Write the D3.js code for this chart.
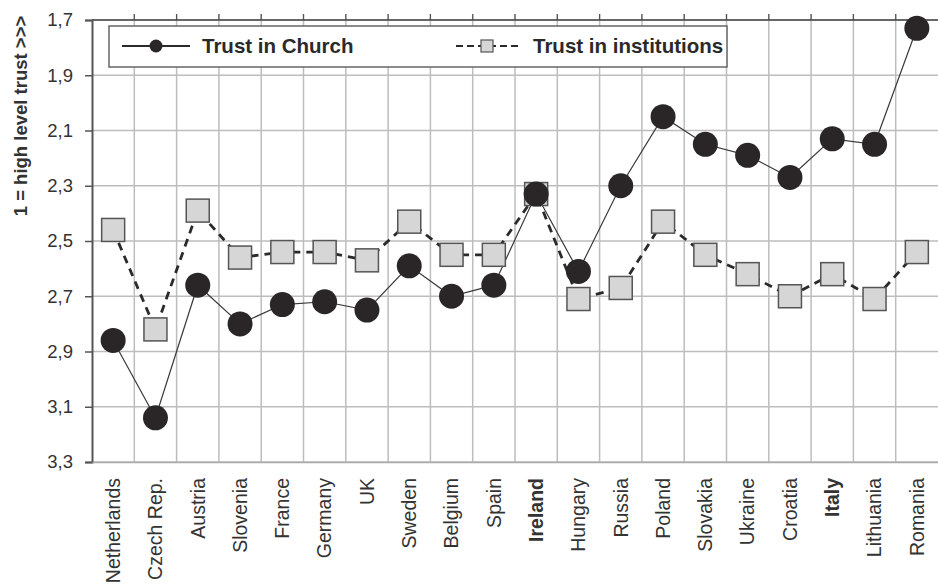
<!DOCTYPE html>
<html>
<head>
<meta charset="utf-8">
<script src="https://cdn.jsdelivr.net/npm/d3@7"></script>
<style>
  body { margin: 0; background: #fff; }
  svg { font-family: "Liberation Sans", Arial, sans-serif; }
</style>
</head>
<body>
<div id="chart"></div>
<script>
// data (lower value = more trust)
let countries = ['Netherlands', 'Czech Rep.', 'Austria', 'Slovenia', 'France', 'Germany', 'UK',
  'Sweden', 'Belgium', 'Spain', 'Ireland', 'Hungary', 'Russia', 'Poland', 'Slovakia',
  'Ukraine', 'Croatia', 'Italy', 'Lithuania', 'Romania'];
let trustChurch = [2.86, 3.14, 2.66, 2.80, 2.73, 2.72, 2.75, 2.59, 2.70, 2.66,
  2.33, 2.61, 2.30, 2.05, 2.15, 2.19, 2.27, 2.13, 2.15, 1.73];
let trustInstitutions = [2.46, 2.82, 2.39, 2.56, 2.54, 2.54, 2.57, 2.43, 2.55, 2.55,
  2.33, 2.71, 2.67, 2.43, 2.55, 2.62, 2.70, 2.62, 2.71, 2.54];
let yTicks = [1.7, 1.9, 2.1, 2.3, 2.5, 2.7, 2.9, 3.1, 3.3];
let seriesNames = ['Trust in Church', 'Trust in institutions'];

let W = 938, H = 588;
let margin = { top: 20, right: 0, bottom: 126, left: 92 };
let width = W - margin.left - margin.right;
let height = H - margin.top - margin.bottom;

let svg = d3.select('#chart').append('svg')
  .attr('width', W)
  .attr('height', H);

let g = svg.append('g')
  .attr('transform', `translate(${margin.left}, ${margin.top})`);

let xScale = d3.scaleBand()
  .domain(countries)
  .range([0, width]);
let yScale = d3.scaleLinear()
  .domain([1.7, 3.3])
  .range([0, height]);

let fmt = d => d3.format('.1f')(d).replace('.', ',');

// grid
let grid = g.append('g').attr('class', 'grid');
grid.selectAll('.hline')
  .data(yTicks)
  .join('line')
  .attr('x1', 0).attr('x2', width)
  .attr('y1', d => yScale(d)).attr('y2', d => yScale(d))
  .attr('stroke', '#bdbdbd')
  .attr('stroke-width', 1.5);
let bounds = countries.map(c => xScale(c)).slice(1);
grid.selectAll('.vline')
  .data(bounds)
  .join('line')
  .attr('x1', d => d).attr('x2', d => d)
  .attr('y1', -6).attr('y2', height)
  .attr('stroke', '#bdbdbd')
  .attr('stroke-width', 1.5);
// small ticks above the top line
grid.selectAll('.ttick')
  .data(bounds)
  .join('line')
  .attr('x1', d => d).attr('x2', d => d)
  .attr('y1', -6).attr('y2', 0)
  .attr('stroke', '#555')
  .attr('stroke-width', 1.2);

// top line
g.append('line')
  .attr('x1', 0).attr('x2', width)
  .attr('y1', 0).attr('y2', 0)
  .attr('stroke', '#444')
  .attr('stroke-width', 1.5);

// y axis
let yAxis = d3.axisLeft(yScale)
  .tickValues(yTicks)
  .tickFormat(fmt)
  .tickSize(7)
  .tickPadding(12);
let yG = g.append('g').attr('class', 'y-axis').call(yAxis);
yG.select('.domain').attr('stroke', '#555').attr('stroke-width', 2);
yG.selectAll('.tick line').attr('stroke', '#555').attr('stroke-width', 1.5);
yG.selectAll('.tick text')
  .attr('font-size', 18.5)
  .attr('fill', '#333');

// x axis labels
let xAxis = d3.axisBottom(xScale).tickSize(0).tickPadding(0);
let xG = g.append('g')
  .attr('class', 'x-axis')
  .attr('transform', `translate(0, ${height})`)
  .call(xAxis);
xG.select('.domain').attr('stroke', '#aaa').attr('stroke-width', 1.5);
xG.selectAll('.tick text')
  .attr('font-size', 19.5)
  .attr('fill', '#333')
  .attr('transform', 'rotate(-90)')
  .attr('x', -16)
  .attr('y', 0)
  .attr('dy', '0.35em')
  .style('text-anchor', 'end')
  .attr('font-weight', d => (d === 'Ireland' || d === 'Italy') ? 'bold' : null);

// y axis title
svg.append('text')
  .attr('transform', 'translate(27, 116) rotate(-90)')
  .attr('text-anchor', 'middle')
  .attr('font-size', 18.5)
  .attr('font-weight', 'bold')
  .attr('fill', '#333')
  .text('1 = high level trust >>>');

let cx = d => xScale(d) + xScale.bandwidth() / 2;

// institutions series
let instData = countries.map((c, i) => ({ c, v: trustInstitutions[i] }));
let churchData = countries.map((c, i) => ({ c, v: trustChurch[i] }));
let line = d3.line().x(d => cx(d.c)).y(d => yScale(d.v));

g.append('path')
  .datum(instData)
  .attr('d', line)
  .attr('fill', 'none')
  .attr('stroke', '#2a2a2a')
  .attr('stroke-width', 2.8)
  .attr('stroke-dasharray', '8,6');

g.append('path')
  .datum(churchData)
  .attr('d', line)
  .attr('fill', 'none')
  .attr('stroke', '#3a3a3a')
  .attr('stroke-width', 1.2);

g.selectAll('.sq')
  .data(instData)
  .join('rect')
  .attr('x', d => cx(d.c) - 11.5)
  .attr('y', d => yScale(d.v) - 11.5)
  .attr('width', 23)
  .attr('height', 23)
  .attr('fill', '#d6d6d6')
  .attr('stroke', '#555')
  .attr('stroke-width', 1.5);

g.selectAll('.dot')
  .data(churchData)
  .join('circle')
  .attr('cx', d => cx(d.c))
  .attr('cy', d => yScale(d.v))
  .attr('r', 12.5)
  .attr('fill', '#2a2627');

// legend
let leg = svg.append('g');
leg.append('rect')
  .attr('x', 109).attr('y', 26)
  .attr('width', 618).attr('height', 41)
  .attr('fill', '#fff')
  .attr('stroke', '#666')
  .attr('stroke-width', 1.5);
leg.append('line')
  .attr('x1', 122).attr('x2', 190).attr('y1', 46).attr('y2', 46)
  .attr('stroke', '#2a2a2a').attr('stroke-width', 2.2);
leg.append('circle')
  .attr('cx', 156).attr('cy', 46).attr('r', 6.5)
  .attr('fill', '#2a2627');
leg.append('text')
  .attr('x', 202).attr('y', 53)
  .attr('font-size', 20.5).attr('font-weight', 'bold').attr('fill', '#2a2a2a')
  .text(seriesNames[0]);
leg.append('line')
  .attr('x1', 456).attr('x2', 518).attr('y1', 46).attr('y2', 46)
  .attr('stroke', '#2a2a2a').attr('stroke-width', 2.2)
  .attr('stroke-dasharray', '7,4');
leg.append('rect')
  .attr('x', 481).attr('y', 40).attr('width', 12).attr('height', 12)
  .attr('fill', '#d6d6d6').attr('stroke', '#555').attr('stroke-width', 1.2);
leg.append('text')
  .attr('x', 533).attr('y', 53)
  .attr('font-size', 20.5).attr('font-weight', 'bold').attr('fill', '#2a2a2a')
  .text(seriesNames[1]);
</script>
</body>
</html>
